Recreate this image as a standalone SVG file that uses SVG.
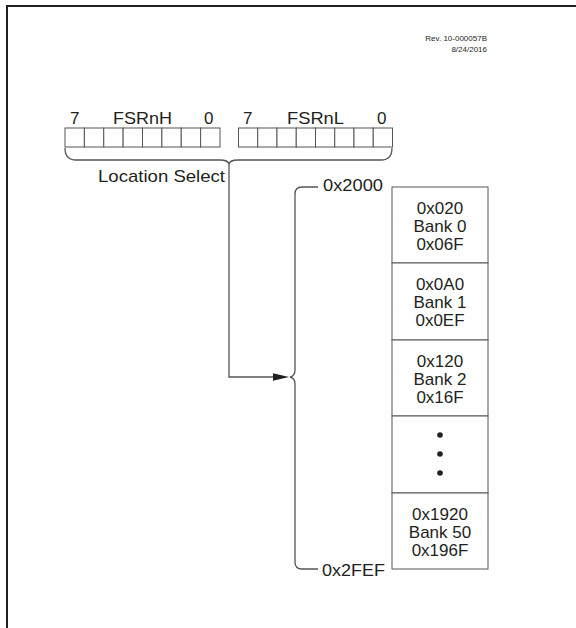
<svg xmlns="http://www.w3.org/2000/svg" width="576" height="628" viewBox="0 0 576 628">
<defs>
<style>
text{font-family:"Liberation Sans",Arial,sans-serif;fill:#231f20}
.lbl{font-size:17px}
.bk{font-size:17px;text-anchor:middle}
.rev{font-size:8px;text-anchor:end}
.cell{fill:#fff;stroke:#555;stroke-width:1}
.ln{fill:none;stroke:#555;stroke-width:1.3}
.frame{fill:none;stroke:#231f20;stroke-width:2}
</style>
</defs>
<rect width="576" height="628" fill="#fff"/>
<path class="frame" d="M7,628 V6 H576"/>
<g id="rev">
<text class="rev" x="487" y="41">Rev. 10-000057B</text>
<text class="rev" x="487" y="52">8/24/2016</text>
</g>
<g id="fsrnh">
<text class="lbl" x="70" y="124">7</text>
<text class="lbl" x="113" y="124" textLength="59" lengthAdjust="spacingAndGlyphs">FSRnH</text>
<text class="lbl" x="204" y="124">0</text>
<rect class="cell" x="65" y="128" width="19.375" height="19"/>
<rect class="cell" x="84.375" y="128" width="19.375" height="19"/>
<rect class="cell" x="103.75" y="128" width="19.375" height="19"/>
<rect class="cell" x="123.125" y="128" width="19.375" height="19"/>
<rect class="cell" x="142.5" y="128" width="19.375" height="19"/>
<rect class="cell" x="161.875" y="128" width="19.375" height="19"/>
<rect class="cell" x="181.25" y="128" width="19.375" height="19"/>
<rect class="cell" x="200.625" y="128" width="19.375" height="19"/>
</g>
<g id="fsrnl">
<text class="lbl" x="243" y="124">7</text>
<text class="lbl" x="287" y="124" textLength="57" lengthAdjust="spacingAndGlyphs">FSRnL</text>
<text class="lbl" x="377" y="124">0</text>
<rect class="cell" x="238.5" y="128" width="19.25" height="19"/>
<rect class="cell" x="257.75" y="128" width="19.25" height="19"/>
<rect class="cell" x="277" y="128" width="19.25" height="19"/>
<rect class="cell" x="296.25" y="128" width="19.25" height="19"/>
<rect class="cell" x="315.5" y="128" width="19.25" height="19"/>
<rect class="cell" x="334.75" y="128" width="19.25" height="19"/>
<rect class="cell" x="354" y="128" width="19.25" height="19"/>
<rect class="cell" x="373.25" y="128" width="19.25" height="19"/>
</g>
<g id="location-select">
<text class="lbl" x="98" y="182" textLength="127" lengthAdjust="spacingAndGlyphs">Location Select</text>
</g>
<g id="addr-labels">
<text class="lbl" x="323" y="191" textLength="60" lengthAdjust="spacingAndGlyphs">0x2000</text>
<text class="lbl" x="322" y="576" textLength="63" lengthAdjust="spacingAndGlyphs">0x2FEF</text>
</g>
<g id="connectors">
<path class="ln" d="M65,148 Q65,160 76,160 H220 Q228,160 229,164"/>
<path class="ln" d="M392,148 Q392,160 381,160 H238 Q230,160 229,164"/>
<path class="ln" d="M229,164 V377 H276"/>
<polygon points="289,377 273,373.3 273,380.7" fill="#231f20"/>
<path class="ln" d="M318,187 H302 Q295,187 295,194 V370 Q295,376 290,377 Q295,378 295,384 V562 Q295,569 302,569 H318"/>
</g>
<g id="bank-0">
<rect class="cell" x="392" y="187" width="96" height="76"/>
<text class="bk" x="440" y="214">0x020</text>
<text class="bk" x="440" y="232">Bank 0</text>
<text class="bk" x="440" y="250">0x06F</text>
</g>
<g id="bank-1">
<rect class="cell" x="392" y="263" width="96" height="77"/>
<text class="bk" x="440" y="290">0x0A0</text>
<text class="bk" x="440" y="308">Bank 1</text>
<text class="bk" x="440" y="326">0x0EF</text>
</g>
<g id="bank-2">
<rect class="cell" x="392" y="340" width="96" height="76"/>
<text class="bk" x="440" y="367">0x120</text>
<text class="bk" x="440" y="385">Bank 2</text>
<text class="bk" x="440" y="403">0x16F</text>
</g>
<g id="bank-dots">
<rect class="cell" x="392" y="416" width="96" height="77"/>
<circle cx="440" cy="435" r="2.8" fill="#231f20"/>
<circle cx="440" cy="454" r="2.8" fill="#231f20"/>
<circle cx="440" cy="473" r="2.8" fill="#231f20"/>
</g>
<g id="bank-50">
<rect class="cell" x="392" y="493" width="96" height="76"/>
<text class="bk" x="440" y="520">0x1920</text>
<text class="bk" x="440" y="538">Bank 50</text>
<text class="bk" x="440" y="556">0x196F</text>
</g>
</svg>
